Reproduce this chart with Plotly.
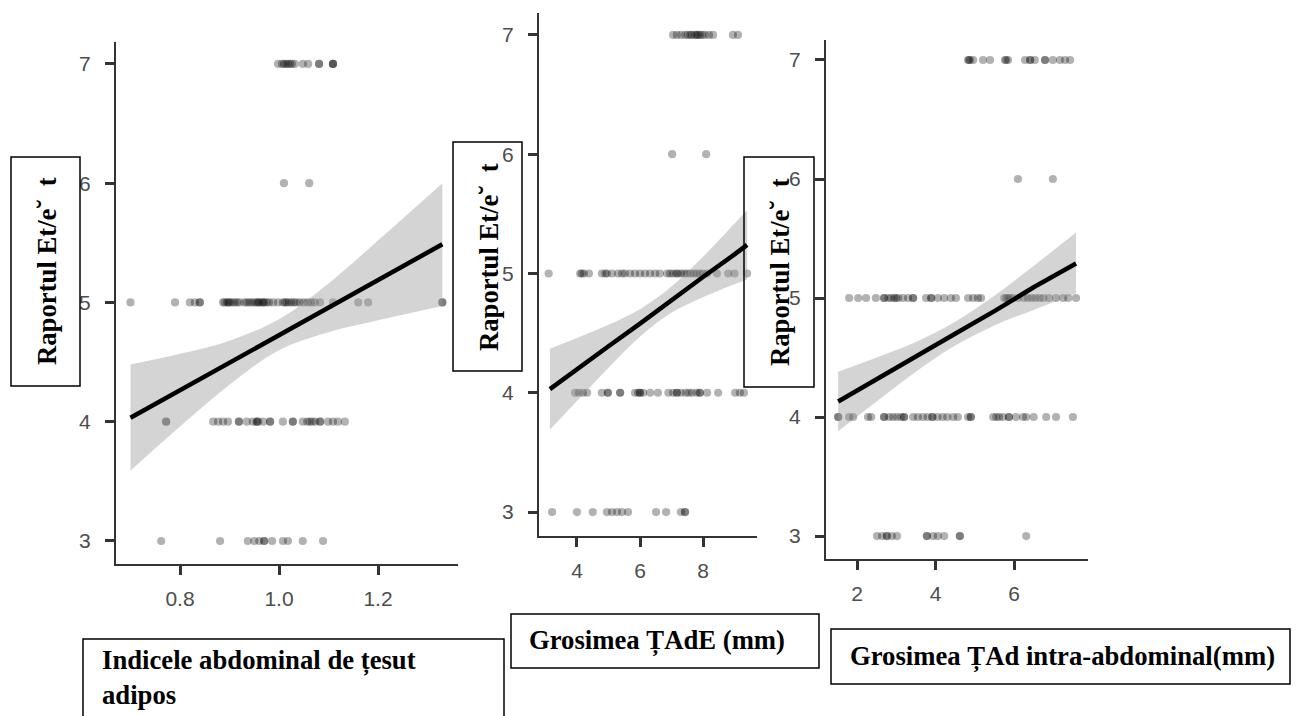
import plotly.graph_objects as go

W, H = 1302, 716

# ---------------- data ----------------
y_levels = [7, 6, 5, 4, 3]

# Panel 1: Indicele abdominal de tesut adipos
p1_y7 = [0.998, 1.006, 1.010, 1.014, 1.018, 1.022, 1.026, 1.032, 1.048, 1.059, 1.081, 1.081, 1.109, 1.109, 1.109]
p1_y6 = [1.010, 1.061]
p1_y5 = [0.700, 0.790, 0.820, 0.830, 0.840, 0.840, 0.887, 0.890, 0.895, 0.898, 0.900, 0.905, 0.910,
         0.915, 0.920, 0.930, 0.935, 0.940, 0.945, 0.950, 0.955, 0.958, 0.960, 0.965, 0.968, 0.970,
         0.975, 0.980, 0.988, 0.998, 1.008, 1.012, 1.015, 1.020, 1.025, 1.030, 1.035, 1.042, 1.050,
         1.058, 1.065, 1.072, 1.083, 1.109, 1.160, 1.180, 1.330, 1.330]
p1_y4 = [0.772, 0.772, 0.867, 0.877, 0.887, 0.897, 0.919, 0.919, 0.935, 0.947, 0.955, 0.955, 0.958,
         0.968, 0.982, 0.982, 1.008, 1.028, 1.028, 1.048, 1.057, 1.062, 1.067, 1.073, 1.083, 1.083,
         1.099, 1.109, 1.119, 1.133]
p1_y3 = [0.762, 0.881, 0.937, 0.950, 0.960, 0.970, 0.970, 0.986, 1.008, 1.018, 1.048, 1.089]

p1_fit_x = [0.70, 0.80, 0.90, 1.00, 1.10, 1.20, 1.33]
p1_fit_y = [4.033, 4.264, 4.495, 4.726, 4.957, 5.188, 5.488]
p1_lo = [3.59, 3.96, 4.31, 4.60, 4.75, 4.85, 4.97]
p1_hi = [4.48, 4.57, 4.68, 4.86, 5.16, 5.52, 6.00]

# Panel 2: Grosimea TAdE (mm)
p2_y7 = [7.05, 7.17, 7.30, 7.43, 7.52, 7.60, 7.65, 7.75, 7.80, 7.84, 7.90, 7.97, 8.06, 8.19, 8.32, 8.95, 9.11]
p2_y6 = [7.02, 8.10]
p2_y5 = [3.10, 4.10, 4.15, 4.22, 4.38, 4.79, 4.90, 4.95, 5.11, 5.30, 5.43, 5.52, 5.68, 5.84, 6.00,
         6.16, 6.32, 6.48, 6.63, 6.86, 6.95, 7.05, 7.15, 7.20, 7.30, 7.40, 7.49, 7.60, 7.70, 7.80,
         7.90, 8.00, 8.13, 8.44, 8.80, 9.00, 9.40]
p2_y4 = [3.94, 4.06, 4.19, 4.32, 4.79, 4.98, 4.98, 5.37, 5.37, 5.84, 5.94, 6.00, 6.00, 6.10, 6.32,
         6.57, 6.90, 7.05, 7.17, 7.17, 7.30, 7.45, 7.55, 7.65, 7.80, 7.90, 7.90, 8.13, 8.48, 9.02,
         9.17, 9.30]
p2_y3 = [3.21, 4.00, 4.50, 4.95, 5.11, 5.27, 5.43, 5.62, 6.51, 6.83, 7.30, 7.43, 7.43]

p2_fit_x = [3.14, 4.0, 5.0, 6.0, 7.0, 8.0, 9.0, 9.40]
p2_fit_y = [4.03, 4.20, 4.39, 4.58, 4.78, 4.97, 5.16, 5.24]
p2_lo = [3.69, 3.93, 4.21, 4.47, 4.67, 4.80, 4.91, 4.95]
p2_hi = [4.37, 4.46, 4.57, 4.70, 4.89, 5.14, 5.42, 5.53]

# Panel 3: Grosimea TAd intra-abdominal (mm)
p3_y7 = [4.83, 4.85, 4.88, 4.96, 5.21, 5.39, 5.77, 5.80, 5.85, 6.28, 6.41, 6.41, 6.53, 6.79, 6.79,
         6.99, 7.17, 7.30, 7.43]
p3_y6 = [6.10, 6.99]
p3_y5 = [1.80, 2.03, 2.23, 2.48, 2.69, 2.69, 2.80, 2.87, 2.95, 2.99, 3.05, 3.17, 3.30, 3.43, 3.43,
         3.76, 3.89, 3.89, 4.06, 4.22, 4.39, 4.52, 4.83, 4.96, 5.08, 5.16, 5.75, 5.80, 5.85, 5.90,
         5.97, 6.10, 6.25, 6.35, 6.45, 6.55, 6.65, 6.75, 6.89, 7.07, 7.25, 7.38, 7.58]
p3_y4 = [1.52, 1.52, 1.80, 1.90, 2.28, 2.36, 2.69, 2.69, 2.82, 2.92, 3.02, 3.12, 3.20, 3.20, 3.43,
         3.55, 3.68, 3.80, 3.92, 3.92, 4.05, 4.18, 4.30, 4.45, 4.57, 4.83, 4.90, 4.90, 5.47, 5.55,
         5.62, 5.72, 5.87, 5.87, 6.05, 6.23, 6.31, 6.50, 6.82, 7.07, 7.50]
p3_y3 = [2.51, 2.64, 2.76, 2.76, 2.89, 3.02, 3.78, 3.78, 3.94, 4.06, 4.22, 4.62, 4.62, 6.31]

p3_fit_x = [1.52, 2.5, 3.5, 4.5, 5.5, 6.5, 7.58]
p3_fit_y = [4.13, 4.32, 4.51, 4.70, 4.89, 5.09, 5.29]
p3_lo = [3.88, 4.13, 4.38, 4.60, 4.77, 4.90, 5.04]
p3_hi = [4.38, 4.50, 4.63, 4.80, 5.02, 5.27, 5.55]

p1_ticks = [0.8, 1.0, 1.2]
p2_ticks = [4, 6, 8]
p3_ticks = [2, 4, 6]
y_ticks = [3, 4, 5, 6, 7]

ylab_text = "Raportul Et/e\u02d8\u00a0 t"
xlab1_text = "Indicele abdominal de țesut<br>adipos"
xlab2_text = "Grosimea ȚAdE (mm)"
xlab3_text = "Grosimea ȚAd intra-abdominal(mm)"

# ---------------- helpers ----------------
def px_x(p):
    return p / W

def px_y(p):
    return 1 - p / H


def rows_to_xy(rows):
    xs, ys = [], []
    for lvl, vals in zip(y_levels, rows):
        xs += vals
        ys += [lvl] * len(vals)
    return xs, ys


panels = [
    dict(rows=[p1_y7, p1_y6, p1_y5, p1_y4, p1_y3], fx=p1_fit_x, fy=p1_fit_y, lo=p1_lo, hi=p1_hi),
    dict(rows=[p2_y7, p2_y6, p2_y5, p2_y4, p2_y3], fx=p2_fit_x, fy=p2_fit_y, lo=p2_lo, hi=p2_hi),
    dict(rows=[p3_y7, p3_y6, p3_y5, p3_y4, p3_y3], fx=p3_fit_x, fy=p3_fit_y, lo=p3_lo, hi=p3_hi),
]

fig = go.Figure()
for i, p in enumerate(panels):
    xa = "x" if i == 0 else f"x{i+1}"
    ya = "y" if i == 0 else f"y{i+1}"
    xs, ys = rows_to_xy(p["rows"])
    fig.add_trace(go.Scatter(x=xs, y=ys, mode="markers", xaxis=xa, yaxis=ya,
                             marker=dict(size=8.2, color="rgba(0,0,0,0.30)", line=dict(width=0)),
                             hoverinfo="skip", showlegend=False))
    fig.add_trace(go.Scatter(x=p["fx"], y=p["lo"], mode="lines", xaxis=xa, yaxis=ya,
                             line=dict(width=0, shape="spline", color="rgba(0,0,0,0)"),
                             hoverinfo="skip", showlegend=False))
    fig.add_trace(go.Scatter(x=p["fx"], y=p["hi"], mode="lines", xaxis=xa, yaxis=ya,
                             line=dict(width=0, shape="spline", color="rgba(0,0,0,0)"),
                             fill="tonexty", fillcolor="rgba(153,153,153,0.42)",
                             hoverinfo="skip", showlegend=False))
    fig.add_trace(go.Scatter(x=p["fx"], y=p["fy"], mode="lines", xaxis=xa, yaxis=ya,
                             line=dict(width=4.5, color="black"),
                             hoverinfo="skip", showlegend=False))

common = dict(showline=True, linecolor="#333333", linewidth=2, ticks="outside", ticklen=9,
              tickwidth=2.5, tickcolor="#333333", showgrid=False, zeroline=False,
              tickfont=dict(family="Liberation Sans, Arial, sans-serif", size=21, color="#4d4d4d"))

# panel geometry (pixels): x-left, x-right, y-top, y-bottom, x-range, y-range
geo = [
    (116, 458, 42, 564, [0.6707, 1.3616], [2.807, 7.184], p1_ticks, ".1f"),
    (539, 757, 13, 536, [2.794, 9.714], [2.799, 7.184], p2_ticks, "d"),
    (826, 1088, 40, 559, [1.210, 7.885], [2.807, 7.168], p3_ticks, "d"),
]
for i, (xl, xr, yt, yb, xr_, yr_, xt, fmt) in enumerate(geo):
    sx = "" if i == 0 else str(i + 1)
    fig.layout[f"xaxis{sx}"] = dict(domain=[px_x(xl), px_x(xr)], range=xr_, anchor=f"y{sx}",
                                    tickvals=xt, tickformat=fmt, ticklabelstandoff=6, **common)
    fig.layout[f"yaxis{sx}"] = dict(domain=[px_y(yb), px_y(yt)], range=yr_, anchor=f"x{sx}",
                                    tickvals=y_ticks, ticklabelstandoff=10, **common)

serif = dict(family="Liberation Serif, Times New Roman, serif", size=26.7, color="black")

shapes = []
annots = []
# y-label boxes
for (x0, y0, x1, y1) in [(11, 157, 80, 386), (453, 142, 522, 371), (744, 157, 814, 387)]:
    shapes.append(dict(type="rect", xref="paper", yref="paper", x0=px_x(x0), x1=px_x(x1),
                       y0=px_y(y1), y1=px_y(y0), line=dict(color="black", width=1.5),
                       fillcolor="rgba(0,0,0,0)"))
    annots.append(dict(x=px_x((x0 + x1) / 2 + 1), y=px_y((y0 + y1) / 2), xref="paper", yref="paper",
                       text=f"<b>{ylab_text}</b>", textangle=-90, showarrow=False, font=serif,
                       xanchor="center", yanchor="middle"))
# x-label boxes
for (x0, y0, x1, y1) in [(83, 639, 504, 740), (511, 614, 819, 668), (831, 629, 1290, 684)]:
    shapes.append(dict(type="rect", xref="paper", yref="paper", x0=px_x(x0), x1=px_x(x1),
                       y0=px_y(y1), y1=px_y(y0), line=dict(color="black", width=1.5),
                       fillcolor="rgba(0,0,0,0)"))
annots.append(dict(x=px_x(100), y=px_y(677), xref="paper", yref="paper", text=f"<b>{xlab1_text}</b>",
                   showarrow=False, font=serif, xanchor="left", yanchor="middle", align="left"))
annots.append(dict(x=px_x(527), y=px_y(641), xref="paper", yref="paper", text=f"<b>{xlab2_text}</b>",
                   showarrow=False, font=serif, xanchor="left", yanchor="middle", align="left"))
annots.append(dict(x=px_x(848), y=px_y(657), xref="paper", yref="paper", text=f"<b>{xlab3_text}</b>",
                   showarrow=False, font=serif, xanchor="left", yanchor="middle", align="left"))

fig.update_layout(width=W, height=H, autosize=False, margin=dict(l=0, r=0, t=0, b=0),
                  paper_bgcolor="white", plot_bgcolor="white", shapes=shapes, annotations=annots,
                  showlegend=False)

fig.write_html("out.html", config={"displayModeBar": False})
